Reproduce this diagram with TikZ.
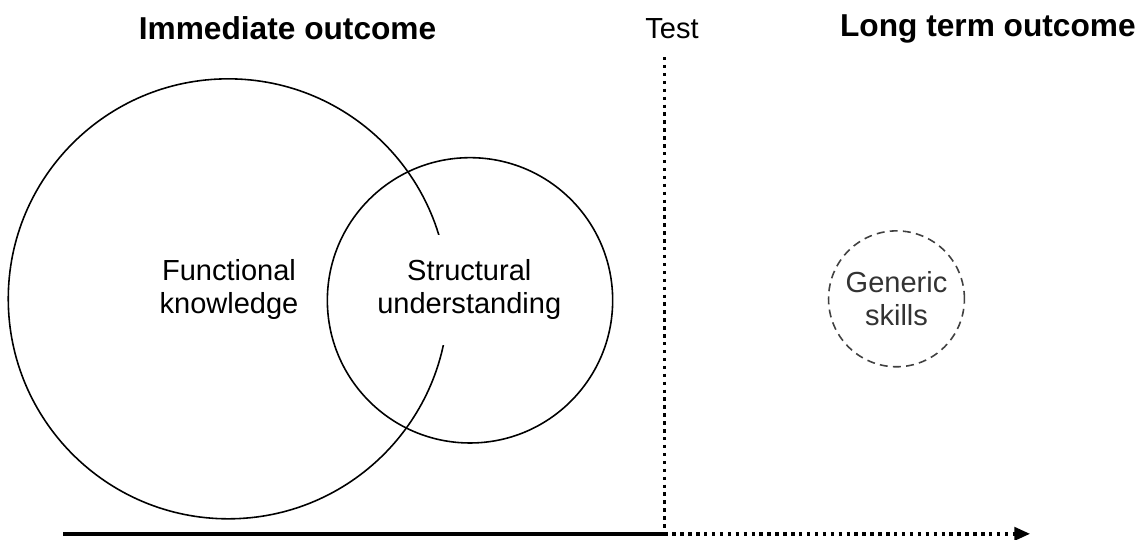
\documentclass[tikz,border=0pt]{standalone}
\usepackage{fontspec}
\setmainfont{Liberation Sans}
\usetikzlibrary{arrows.meta,calc}

\begin{document}
\begin{tikzpicture}[
        head/.style={font=\fontsize{12}{14}\selectfont\bfseries},
        lbl/.style={font=\fontsize{11}{12.6}\selectfont, align=center},
        ring/.style={circle, draw, line width=0.6pt, inner sep=0pt},
        dots/.style={line width=1.3pt, dash pattern=on 1.3pt off 1.7pt}
    ]
    \useasboundingbox (0,0) rectangle (15.17,7.18);
    % headings
    \node[head] (imm) at (3.83,6.80) {Immediate outcome};
    \node[lbl] (test) at (8.95,6.80) {Test};
    \node[head, anchor=east] (long) at (15.25,6.80) {Long term outcome};
    % circles
    \node[ring, minimum size=5.86cm] (fk) at (3.04,3.20) {};
    \node[ring, minimum size=3.80cm] (su) at (6.26,3.18) {};
    \node[ring, minimum size=1.81cm, draw=black!75, dash pattern=on 3pt off 2pt] (gs) at (11.94,3.20) {};
    \node[lbl] (fktext) at (3.05,3.32) {Functional\\knowledge};
    \node[lbl, fill=white, minimum height=1.46cm, minimum width=2.7cm] (sutext) at (6.25,3.32) {Structural\\understanding};
    \node[lbl, text=black!80] (gstext) at (gs.center) {Generic\\skills};
    % time line
    \coordinate (start) at (0.84,0.07);
    \coordinate (now) at (8.85,0.07);
    \coordinate (top) at (8.85,6.42);
    \coordinate (later) at (13.72,0.07);
    \draw[line width=1.5pt] (start) -- (now);
    \draw[dots] (top) -- (now);
    \draw[dots, -{Triangle[length=6pt,width=5pt]}] (now) -- (later);
\end{tikzpicture}
\end{document}
